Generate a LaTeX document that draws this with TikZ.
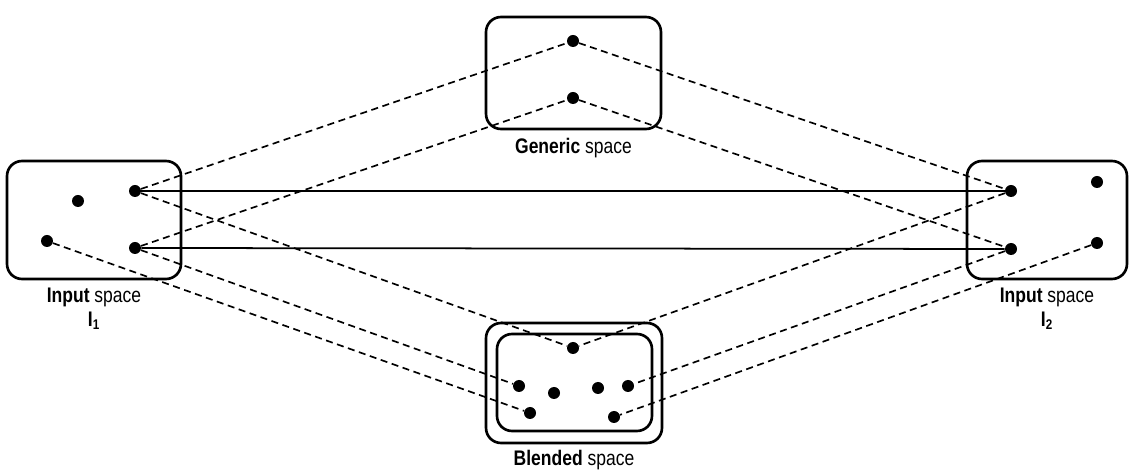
\documentclass[tikz,border=0pt]{standalone}
\usepackage{fontspec}
\setmainfont{Liberation Sans}[FakeStretch=0.83]
\usetikzlibrary{positioning}

\begin{document}
\begin{tikzpicture}[
    x=0.02cm, y=-0.02cm,
    space/.style={draw, line width=1.5pt, rounded corners=0.3cm},
    elem/.style={circle, fill, inner sep=0pt, minimum size=0.24cm},
    link/.style={line width=0.95pt, dash pattern=on 4pt off 2.6pt},
    map/.style={line width=1pt},
    lbl/.style={font=\fontsize{12}{14}\selectfont, inner sep=1pt}
]
\useasboundingbox (0,0) rectangle (1129,475);
\node[space, minimum width=3.48cm, minimum height=2.36cm] (inL) at (94,220) {};
\node[space, minimum width=3.2cm, minimum height=2.36cm] (inR) at (1047,220) {};
\node[space, minimum width=3.5cm, minimum height=2.24cm] (gen) at (573.5,73) {};
\node[space, minimum width=3.52cm, minimum height=2.4cm] (blend) at (574,383) {};
\node[space, minimum width=3.1cm, minimum height=1.94cm] (blendin) at (574.5,382.5) {};
\node[lbl, below=0.12cm of inL] (inLlbl) {\textbf{Input} space};
\node[lbl, below=0pt of inLlbl] (inLsub) {\textbf{I\textsubscript{1}}};
\node[lbl, below=0.12cm of inR] (inRlbl) {\textbf{Input} space};
\node[lbl, below=0pt of inRlbl] (inRsub) {\textbf{I\textsubscript{2}}};
\node[lbl, below=0.12cm of gen] (genlbl) {\textbf{Generic} space};
\node[lbl, below=0.07cm of blend] (blendlbl) {\textbf{Blended} space};
\node[elem] (l1) at (78,201) {};
\node[elem] (l2) at (135,191) {};
\node[elem] (l3) at (135,248) {};
\node[elem] (l4) at (47,241) {};
\node[elem] (g1) at (573,41) {};
\node[elem] (g2) at (573,98) {};
\node[elem] (r1) at (1011,191) {};
\node[elem] (r2) at (1097,182) {};
\node[elem] (r3) at (1011,249) {};
\node[elem] (r4) at (1097,243) {};
\node[elem] (bl1) at (573,348) {};
\node[elem] (bl2) at (519,386) {};
\node[elem] (bl3) at (530,413) {};
\node[elem] (bl4) at (554,393) {};
\node[elem] (bl5) at (598,388) {};
\node[elem] (bl6) at (628,386) {};
\node[elem] (bl7) at (614,417) {};
\draw[map] (l2) -- (r1);
\draw[map] (l3) -- (r3);
\draw[link] (l2) -- (g1);
\draw[link] (l3) -- (g2);
\draw[link] (g1) -- (r1);
\draw[link] (g2) -- (r3);
\draw[link] (l2) -- (bl1);
\draw[link] (r1) -- (bl1);
\draw[link] (l3) -- (bl2);
\draw[link] (l4) -- (bl3);
\draw[link] (r3) -- (bl6);
\draw[link] (r4) -- (bl7);
\end{tikzpicture}
\end{document}
